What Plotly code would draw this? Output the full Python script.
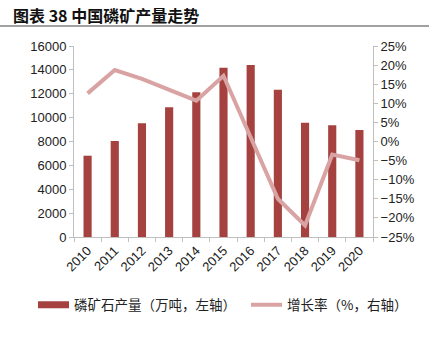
import plotly.graph_objects as go

years = ["2010", "2011", "2012", "2013", "2014", "2015", "2016", "2017", "2018", "2019", "2020"]
output = [6810, 8040, 9520, 10860, 12120, 14180, 14400, 12340, 9580, 9360, 8960]
growth = [12.6, 18.7, 16.4, 13.5, 10.7, 17.2, 0.8, -15.0, -22.0, -3.4, -4.9]

W, H = 429, 358
L, R, T, B = 74, 56, 46, 121
pw, ph = W - L - R, H - T - B

BAR_COLOR = "#A5423F"
LINE_COLOR = "#D9A3A3"

def px_x(x):
    return (x - L) / pw

def px_y(y):
    return (H - B - y) / ph

fig = go.Figure()
fig.add_trace(go.Bar(
    x=years, y=output, name="磷矿石产量（万吨，左轴）", showlegend=False,
    marker=dict(color=BAR_COLOR, line=dict(width=0)), width=0.3, yaxis="y",
))
# legend-only entry so the bar key is drawn as a wide block, like the reference
fig.add_trace(go.Scatter(
    x=[years[0]], y=[None], name="磷矿石产量（万吨，左轴）", mode="lines",
    line=dict(color=BAR_COLOR, width=7), yaxis="y", hoverinfo="skip",
    legend="legend",
))
fig.add_trace(go.Scatter(
    x=years, y=growth, name="增长率（%，右轴）", mode="lines",
    line=dict(color=LINE_COLOR, width=4), yaxis="y2", legend="legend2",
))

axis_font = dict(family="Liberation Sans, Arial, sans-serif", size=13, color="#222222")
legend_font = dict(family="Noto Sans CJK SC", size=13.5, color="#222222")
legend_common = dict(orientation="h", xanchor="left", yanchor="middle",
                     xref="container", yref="container", y=(H - 305) / H,
                     font=legend_font, itemwidth=31, bgcolor="rgba(0,0,0,0)")

fig.update_layout(
    width=W, height=H,
    margin=dict(l=L, r=R, t=T, b=B, autoexpand=False),
    paper_bgcolor="white", plot_bgcolor="white",
    showlegend=True,
    legend=dict(x=33 / W, **legend_common),
    legend2=dict(x=246 / W, **legend_common),
    xaxis=dict(type="category", categoryorder="array", categoryarray=years,
               range=[-0.5, len(years) - 0.5],
               showline=True, linecolor="#BFBFBF", linewidth=1,
               ticks="outside", tickson="boundaries", ticklen=4, tickcolor="#BFBFBF",
               tickangle=-45, tickfont=axis_font, showgrid=False),
    yaxis=dict(range=[0, 16000], dtick=2000, tickformat="d", showline=True, linecolor="#BFBFBF",
               ticks="outside", ticklen=4, tickcolor="#BFBFBF", showgrid=False,
               tickfont=axis_font, zeroline=False),
    yaxis2=dict(range=[-25, 25], dtick=5, overlaying="y", side="right", showline=True,
                linecolor="#BFBFBF", ticks="outside", ticklen=4, tickcolor="#BFBFBF",
                showgrid=False, ticksuffix="%", tickfont=axis_font, zeroline=False),
)

fig.add_annotation(
    text="<b>图表 38 中国磷矿产量走势</b>", xref="paper", yref="paper",
    x=px_x(11), y=px_y(15), xanchor="left", yanchor="middle", showarrow=False,
    font=dict(family="Noto Sans CJK SC", size=16, color="#111111"),
)
fig.add_shape(type="line", xref="paper", yref="paper", layer="above",
              x0=px_x(0), x1=px_x(429), y0=px_y(26), y1=px_y(26),
              line=dict(color="#444444", width=1.2))

fig.write_html("out.html", config={"displayModeBar": False},
               post_script="document.body.style.margin='0';")
